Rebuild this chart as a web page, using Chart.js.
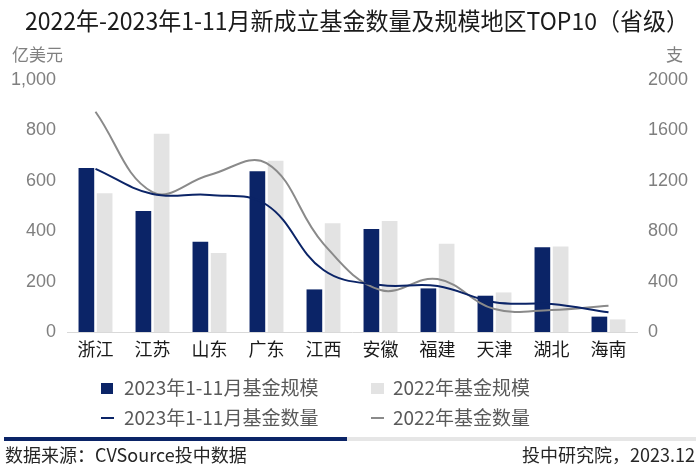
<!DOCTYPE html>
<html>
<head>
<meta charset="utf-8">
<script src="https://cdn.jsdelivr.net/npm/chart.js@4"></script>
<style>
html,body{margin:0;padding:0;background:#fff;}
#wrap{position:relative;width:700px;height:468px;}
</style>
</head>
<body>
<div id="wrap"><canvas id="c" width="700" height="468"></canvas></div>
<script>
const categories = ['浙江','江苏','山东','广东','江西','安徽','福建','天津','湖北','海南'];
const scale2023 = [651, 480, 358, 638, 169, 409, 173, 144, 336, 61];
const scale2022 = [551, 787, 313, 680, 432, 440, 350, 157, 339, 50];
const count2023 = [1295, 1095, 1088, 1010, 492, 373, 365, 236, 222, 156];
const count2022 = [1748, 1110, 1246, 1340, 700, 333, 420, 182, 175, 209];
const leftTicks = [0, 200, 400, 600, 800, 1000];
const rightTicks = [0, 400, 800, 1200, 1600, 2000];
const seriesNames = ['2023年1-11月基金规模','2022年基金规模','2023年1-11月基金数量','2022年基金数量'];
const titleText = '2022年-2023年1-11月新成立基金数量及规模地区TOP10（省级）';

const NAVY = '#0b2467';
const LGRAY = '#e3e3e3';
const GRAYLINE = '#8a8a8a';
const CJK = '"Noto Sans CJK SC","Noto Sans",sans-serif';
const NUM = '"Liberation Sans",Arial,sans-serif';

const decor = {
  id: 'decor',
  afterDraw(chart) {
    const ctx = chart.ctx;
    ctx.save();
    ctx.textBaseline = 'middle';
    // title
    ctx.fillStyle = '#1a1a1a';
    ctx.font = '24px ' + CJK;
    ctx.textAlign = 'left';
    ctx.fillText(titleText, 25, 21, 664);
    // units
    ctx.fillStyle = '#808080';
    ctx.font = '17px ' + CJK;
    ctx.fillText('亿美元', 12, 55);
    ctx.fillText('支', 666, 55);
    // legend
    ctx.font = '19px ' + CJK;
    ctx.fillStyle = NAVY;
    ctx.fillRect(101, 383, 12, 11);
    ctx.fillStyle = LGRAY;
    ctx.fillRect(371, 383, 13, 11);
    ctx.fillStyle = NAVY;
    ctx.fillRect(101, 417, 13, 2);
    ctx.fillStyle = GRAYLINE;
    ctx.fillRect(371, 417, 13, 2);
    ctx.fillStyle = '#595959';
    ctx.fillText(seriesNames[0], 124, 388, 199);
    ctx.fillText(seriesNames[1], 393, 388, 137);
    ctx.fillText(seriesNames[2], 124, 418, 199);
    ctx.fillText(seriesNames[3], 393, 418, 137);
    // footer line
    ctx.fillStyle = NAVY;
    ctx.fillRect(4, 437, 343, 4);
    ctx.fillStyle = '#e6e6e6';
    ctx.fillRect(347, 437, 349, 4);
    // footer text
    ctx.fillStyle = '#262626';
    ctx.font = '18px ' + CJK;
    ctx.textAlign = 'left';
    ctx.fillText('数据来源：CVSource投中数据', 5, 455);
    ctx.textAlign = 'right';
    ctx.fillText('投中研究院，2023.12', 695, 455);
    ctx.restore();
  }
};

new Chart(document.getElementById('c'), {
  type: 'bar',
  data: {
    labels: categories,
    datasets: [
      { type: 'line', label: seriesNames[2], data: count2023, yAxisID: 'y2', borderColor: NAVY, borderWidth: 2, pointRadius: 0, tension: 0.4, order: 0, fill: false },
      { type: 'line', label: seriesNames[3], data: count2022, yAxisID: 'y2', borderColor: GRAYLINE, borderWidth: 2, pointRadius: 0, tension: 0.4, order: 0, fill: false },
      { label: seriesNames[0], data: scale2023, yAxisID: 'y', backgroundColor: NAVY, categoryPercentage: 0.64, barPercentage: 0.86, order: 1 },
      { label: seriesNames[1], data: scale2022, yAxisID: 'y', backgroundColor: LGRAY, categoryPercentage: 0.64, barPercentage: 0.86, order: 1 }
    ]
  },
  options: {
    responsive: false,
    animation: false,
    devicePixelRatio: 1,
    layout: { padding: { top: 80, bottom: 96, left: 0, right: 0 } },
    plugins: { legend: { display: false }, tooltip: { enabled: false }, title: { display: false } },
    scales: {
      x: {
        grid: { display: false, drawTicks: false },
        border: { display: true, color: '#d9d9d9', width: 1 },
        ticks: { color: '#1a1a1a', font: { family: CJK, size: 18 }, padding: 6, maxRotation: 0 },
        afterFit(s) { s.height = 40; }
      },
      y: {
        position: 'left', min: 0, max: 1000,
        afterBuildTicks(s) { s.ticks = leftTicks.map(v => ({ value: v })); },
        grid: { display: false, drawTicks: false },
        border: { display: false },
        ticks: { color: '#7f7f7f', font: { family: NUM, size: 18 }, padding: 11,
          callback: v => v.toLocaleString('en-US') },
        afterFit(s) { s.width = 67; }
      },
      y2: {
        position: 'right', min: 0, max: 2000,
        afterBuildTicks(s) { s.ticks = rightTicks.map(v => ({ value: v })); },
        grid: { display: false, drawTicks: false },
        border: { display: false },
        ticks: { color: '#7f7f7f', font: { family: NUM, size: 18 }, padding: 11,
          callback: v => String(v) },
        afterFit(s) { s.width = 63; }
      }
    }
  },
  plugins: [decor]
});
</script>
</body>
</html>
